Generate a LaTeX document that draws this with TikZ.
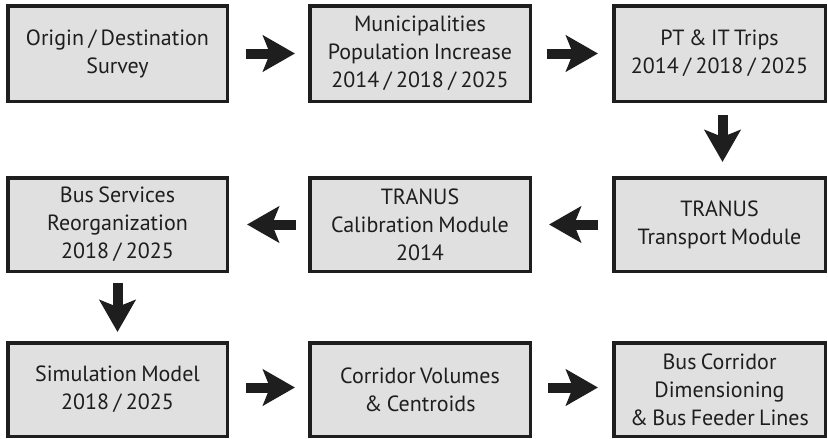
\documentclass[tikz,border=0pt]{standalone}
\usepackage{fontspec}
\setmainfont[WordSpace=0.75]{PT Sans}
\usetikzlibrary{arrows.meta}
\definecolor{boxfill}{RGB}{224,224,224}
\definecolor{ink}{RGB}{30,30,30}
\begin{document}
\begin{tikzpicture}[x=1pt,y=-1pt,
  box/.style={draw=ink,fill=boxfill,line width=3.5pt,inner sep=0pt,
    minimum height=95.5pt,align=center,text=ink,
    font=\fontsize{22}{28}\selectfont},
  flow/.style={line width=10pt,draw=ink,
    -{Stealth[length=32pt,width=36pt,inset=7pt]}}]
\useasboundingbox (0,0) rectangle (828,439);
% row 1
\node[box,minimum width=219.5pt] (a) at (117.5,53.5) {Origin / Destination\\Survey};
\node[box,minimum width=220.5pt] (b) at (420,53.5) {Municipalities\\Population Increase\\2014 / 2018 / 2025};
\node[box,minimum width=211.5pt] (c) at (719.5,53.5) {PT \& IT Trips\\2014 / 2018 / 2025};
% row 2
\node[box,minimum width=211.5pt,minimum height=93.5pt] (f) at (719.5,224.5) {TRANUS\\Transport Module};
\node[box,minimum width=220.5pt,minimum height=93.5pt] (e) at (420,224.5) {TRANUS\\Calibration Module\\2014};
\node[box,minimum width=219.5pt,minimum height=93.5pt] (d) at (117.5,224.5) {Bus Services\\Reorganization\\2018 / 2025};
% row 3
\node[box,minimum width=219.5pt,minimum height=93.5pt] (g) at (117.5,389.5) {Simulation Model\\2018 / 2025};
\node[box,minimum width=220.5pt,minimum height=93.5pt] (h) at (420,389.5) {Corridor Volumes\\\& Centroids};
\node[box,minimum width=211.5pt,minimum height=93.5pt] (i) at (719.5,389.5) {Bus Corridor\\Dimensioning\\\& Bus Feeder Lines};
% arrows
\draw[flow,shorten <=17pt,shorten >=13pt] (a.east) -- (b.west);
\draw[flow,shorten <=15pt,shorten >=14pt] (b.east) -- (c.west);
\draw[flow,shorten <=12pt,shorten >=14pt] ([xshift=3pt]c.south) -- ([xshift=3pt]f.north);
\draw[flow,shorten <=14pt,shorten >=17pt] (f.west) -- (e.east);
\draw[flow,shorten <=12pt,shorten >=18pt] (e.west) -- (d.east);
\draw[flow,shorten <=10pt,shorten >=9pt] (d.south) -- (g.north);
\draw[flow,shorten <=17pt,shorten >=13pt] ([yshift=2pt]g.east) -- ([yshift=2pt]h.west);
\draw[flow,shorten <=16pt,shorten >=14pt] ([yshift=2pt]h.east) -- ([yshift=2pt]i.west);
\end{tikzpicture}
\end{document}
